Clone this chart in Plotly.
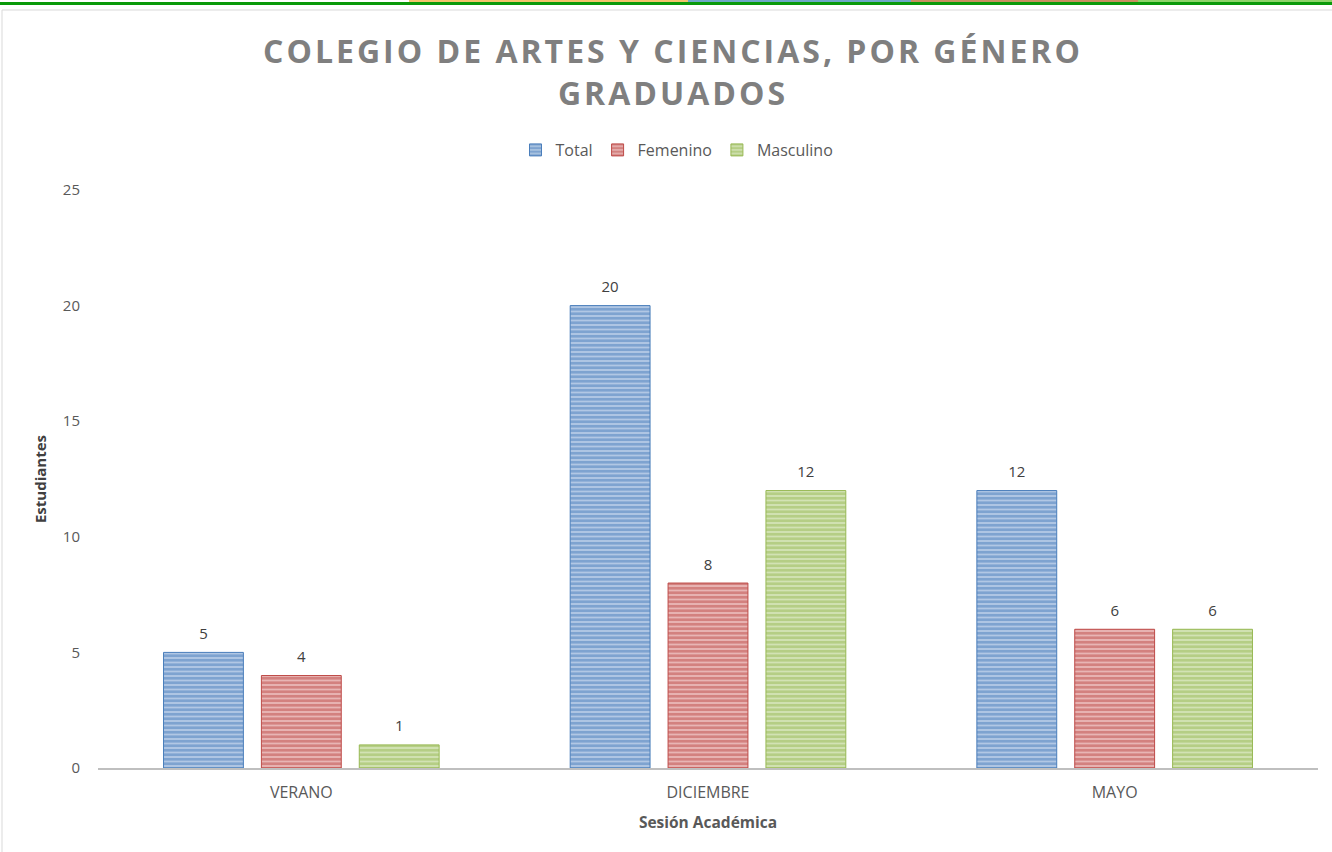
import plotly.graph_objects as go

categories = ["VERANO", "DICIEMBRE", "MAYO"]
total = [5, 20, 12]
femenino = [4, 8, 6]
masculino = [1, 12, 6]
y_ticks = [0, 5, 10, 15, 20, 25]

W, H = 1332, 852
ML, MR, MT, MB = 98, 14, 190, 84
PW, PH = W - ML - MR, H - MT - MB

def px(x):
    return (x - ML) / PW

def py(y):
    return (H - MB - y) / PH

FONT = "Open Sans"
BARGAP = 0.278
series = [
    ("Total", total, "#4A7EBB", "#B3C9E4"),
    ("Femenino", femenino, "#BE4B48", "#E8B7B6"),
    ("Masculino", masculino, "#98B954", "#D3E2B6"),
]

fig = go.Figure()
for name, vals, col, bg in series:
    fig.add_trace(go.Bar(
        name=name, x=categories, y=vals,
        marker=dict(
            color=bg,
            line=dict(color=col, width=1),
            pattern=dict(shape="-", fgcolor=col, bgcolor=bg, size=4.5, solidity=0.62),
        ),
    ))
for name, vals, col, bg in series:
    fig.add_trace(go.Scatter(
        name=name + " etiqueta", x=categories, y=vals,
        mode="markers+text", text=[str(v) for v in vals], textposition="top center",
        textfont=dict(family=FONT, size=15, color="#404040"),
        marker=dict(size=14, color="rgba(0,0,0,0)"),
        showlegend=False, hoverinfo="skip", cliponaxis=False,
    ))

shapes = [
    dict(type="rect", xref="paper", yref="paper",
         x0=px(2), x1=px(1345), y0=py(10), y1=py(870),
         line=dict(color="#D9D9D9", width=1), layer="below"),
    dict(type="rect", xref="paper", yref="paper",
         x0=px(0), x1=px(1332), y0=py(2), y1=py(5),
         line=dict(width=0), fillcolor="#0A9A0A"),
]
for x0, x1, c in [(409, 688, "#F2C46B"), (688, 911, "#6FA8C8"), (911, 1138, "#C99060"), (1138, 1332, "#8ED46A")]:
    shapes.append(dict(type="rect", xref="paper", yref="paper",
                       x0=px(x0), x1=px(x1), y0=py(0), y1=py(2),
                       line=dict(width=0), fillcolor=c))

fig.update_layout(
    width=W, height=H,
    margin=dict(l=ML, r=MR, t=MT, b=MB),
    paper_bgcolor="white", plot_bgcolor="white",
    font=dict(family=FONT, color="#595959"),
    barmode="group", bargap=BARGAP, bargroupgap=0.184,
    scattermode="group", scattergap=BARGAP,
    title=dict(
        text="COLEGIO DE ARTES Y CIENCIAS, POR GÉNERO<br>GRADUADOS",
        x=673 / W, xref="container", xanchor="center",
        y=1 - 63 / H, yref="container", yanchor="top",
        font=dict(family=FONT, size=32, color="#7F7F7F", weight="bold"),
    ),
    legend=dict(
        orientation="h", x=677 / W, xref="container", xanchor="center",
        y=1 - 150 / H, yref="container", yanchor="middle",
        font=dict(family=FONT, size=16, color="#595959"),
        itemwidth=30, traceorder="normal",
    ),
    xaxis=dict(
        showgrid=False, showline=True, linecolor="#BFBFBF", linewidth=2,
        ticks="", ticklabelstandoff=9,
        tickfont=dict(family=FONT, size=16, color="#595959"),
        title=dict(text="<b>Sesión Académica</b>", font=dict(family=FONT, size=15.5, color="#595959"), standoff=15),
    ),
    yaxis=dict(
        range=[0, 25], tickvals=y_ticks, showgrid=False, showline=False,
        zeroline=False, ticks="", ticklabelstandoff=17,
        tickfont=dict(family=FONT, size=15, color="#595959"),
        title=dict(text="<b>Estudiantes</b>", font=dict(family=FONT, size=15, color="#404040"), standoff=12),
    ),
    shapes=shapes,
)

post = """
document.body.style.margin = '0px';
document.documentElement.style.overflow = 'hidden';
var t = document.querySelectorAll('.gtitle');
t.forEach(function(el){ el.style.letterSpacing = '3px'; });
"""
fig.write_html("out.html", post_script=post, config={"displayModeBar": False})
